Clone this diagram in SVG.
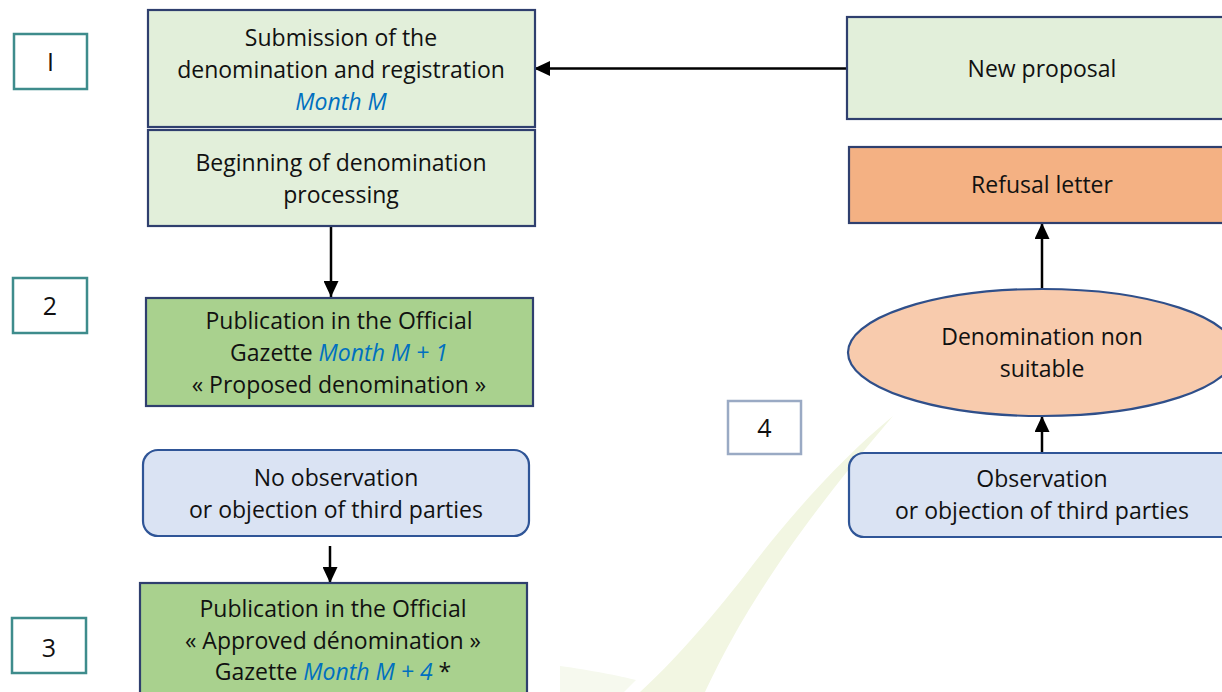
<svg xmlns="http://www.w3.org/2000/svg" width="1222" height="692" viewBox="0 0 1222 692">
<defs>
<style>
text{font-family:"Open Sans","Liberation Sans",sans-serif;font-size:23px;fill:#111;text-anchor:middle;font-variant-ligatures:none}
.num{font-size:25px}
.blue{fill:#0070c0;font-style:italic}
.lg{fill:#e2efda;stroke:#2f3f6e;stroke-width:2.2}
.dg{fill:#a9d18e;stroke:#2f3f6e;stroke-width:2.2}
.bl{fill:#dae3f3;stroke:#2f5597;stroke-width:2.2}
.rf{fill:#f4b183;stroke:#2f3f6e;stroke-width:2.2}
.el{fill:#f8cbad;stroke:#2f4f8a;stroke-width:2.2}
.nb{fill:#fff;stroke:#3e8c8c;stroke-width:2.5}
.nb4{fill:#fff;stroke:#9aaac4;stroke-width:2.5}
.conn line{stroke:#000;stroke-width:2.5;marker-end:url(#ah)}
</style>
<marker id="ah" markerUnits="userSpaceOnUse" viewBox="0 0 16 15" refX="16" refY="7.5" markerWidth="16" markerHeight="15" orient="auto">
<path d="M0,0 L16,7.5 L0,15 Z" fill="#000"/>
</marker>
</defs>
<rect width="1222" height="692" fill="#fff"/>
<g id="watermark" fill="#f2f6e2">
<path d="M893,416 C845,455 790,515 745,575 C710,620 670,665 640,692 L705,692 C730,640 770,560 893,416 Z"/>
<path d="M560,666 C590,670 620,676 636,680 L624,692 L560,692 Z" fill="#f6f9ee"/>
</g>
<g id="connectors" class="conn">
<line x1="331" y1="226" x2="331" y2="297"/>
<line x1="330" y1="546" x2="330" y2="583"/>
<line x1="847" y1="68.5" x2="534" y2="68.5"/>
<line x1="1042" y1="289" x2="1042" y2="223"/>
<line x1="1042" y1="453" x2="1042" y2="416"/>
</g>
<g id="n1"><rect class="nb" x="14" y="34" width="73" height="55"/><text class="num" x="50.5" y="71">I</text></g>
<g id="n2"><rect class="nb" x="13" y="278" width="74" height="55"/><text class="num" x="50" y="315">2</text></g>
<g id="n3"><rect class="nb" x="12" y="618" width="74" height="55"/><text class="num" x="49" y="657">3</text></g>
<g id="n4"><rect class="nb4" x="728" y="401" width="73" height="53"/><text class="num" x="764.5" y="437">4</text></g>
<g id="submission"><rect class="lg" x="148" y="10" width="387" height="117"/>
<text x="341" y="46">Submission of the</text>
<text x="341" y="78">denomination and registration</text>
<text x="341" y="110" class="blue">Month M</text></g>
<g id="beginning"><rect class="lg" x="148" y="130" width="387" height="96"/>
<text x="341" y="171">Beginning of denomination</text>
<text x="341" y="203">processing</text></g>
<g id="pub1"><rect class="dg" x="146" y="298" width="387" height="108"/>
<text x="339" y="329">Publication in the Official</text>
<text x="339" y="361">Gazette <tspan class="blue">Month M + 1</tspan></text>
<text x="339" y="393">« Proposed denomination »</text></g>
<g id="noobs"><rect class="bl" x="143" y="450" width="386" height="86" rx="15"/>
<text x="336" y="486">No observation</text>
<text x="336" y="518">or objection of third parties</text></g>
<g id="pub2"><rect class="dg" x="140" y="583" width="387" height="120"/>
<text x="333" y="617">Publication in the Official</text>
<text x="333" y="649">« Approved dénomination »</text>
<text x="333" y="680">Gazette <tspan class="blue">Month M + 4</tspan> *</text></g>
<g id="newprop"><rect class="lg" x="847" y="17" width="390" height="102"/>
<text x="1042" y="77">New proposal</text></g>
<g id="refusal"><rect class="rf" x="849" y="147" width="390" height="76"/>
<text x="1042" y="193">Refusal letter</text></g>
<g id="nonsuitable"><ellipse class="el" cx="1042" cy="352.5" rx="194" ry="63.5"/>
<text x="1042" y="345">Denomination non</text>
<text x="1042" y="377">suitable</text></g>
<g id="obs"><rect class="bl" x="849" y="453" width="390" height="84" rx="15"/>
<text x="1042" y="487">Observation</text>
<text x="1042" y="519">or objection of third parties</text></g>
</svg>
